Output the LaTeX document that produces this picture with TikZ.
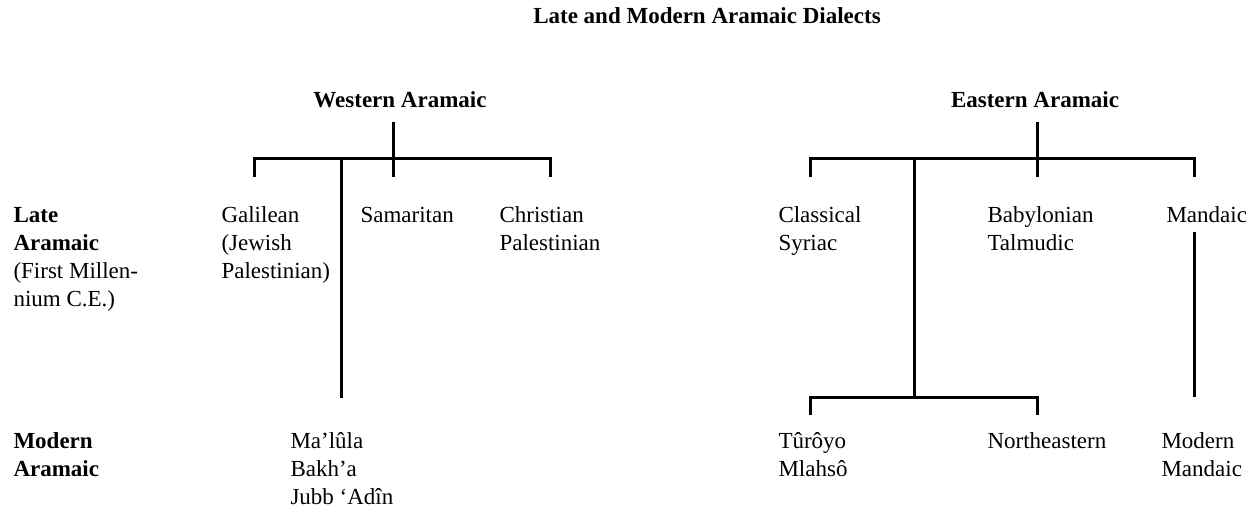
\documentclass[tikz,border=0pt]{standalone}
\usepackage{fontspec}
\setmainfont{Liberation Serif}
\begin{document}
\begin{tikzpicture}[x=1pt,y=-1pt,line width=3pt,
  lbl/.style={anchor=base west,align=left,inner sep=0pt,font=\fontsize{23}{28}\selectfont},
  head/.style={anchor=base,inner sep=0pt,font=\fontsize{23}{28}\selectfont\bfseries}]
\useasboundingbox (0,0) rectangle (1257,508);
\node[head] (title) at (707,24) {Late and Modern Aramaic Dialects};
\node[head] (west) at (400,108) {Western Aramaic};
\node[head] (east) at (1035,108) {Eastern Aramaic};
% row labels (placed at the baseline of their last line)
\node[lbl] (late) at (12,306) {\textbf{Late}\\\textbf{Aramaic}\\(First Millen-\\nium C.E.)};
\node[lbl] (modern) at (12,476) {\textbf{Modern}\\\textbf{Aramaic}};
% late dialects
\node[lbl] (galilean) at (220,278) {Galilean\\(Jewish\\Palestinian)};
\node[lbl] (samaritan) at (359,222) {Samaritan};
\node[lbl] (christian) at (498,250) {Christian\\Palestinian};
\node[lbl] (syriac) at (777,250) {Classical\\Syriac};
\node[lbl] (babylonian) at (986,250) {Babylonian\\Talmudic};
\node[lbl] (mandaic) at (1165,222) {Mandaic};
% modern dialects
\node[lbl] (maalula) at (289,504) {Ma’lûla\\Bakh’a\\Jubb ‘Adîn};
\node[lbl] (turoyo) at (777,476) {Tûrôyo\\Mlahsô};
\node[lbl] (northeast) at (986,448) {Northeastern};
\node[lbl] (modmandaic) at (1160,476) {Modern\\Mandaic};
% western tree
\coordinate (wtop) at (393,122);
\coordinate (wmid) at (393,158);
\coordinate (wleft) at (254,177);
\coordinate (wright) at (550,177);
\coordinate (wsam) at (393,177);
\coordinate (wbar) at (341,158);
\coordinate (wlow) at (341,398);
\draw (wtop) -- (wsam);
\draw (wleft) |- (wmid) -| (wright);
\draw (wbar) -- (wlow);
% eastern tree
\coordinate (etop) at (1037,122);
\coordinate (emid) at (1037,158);
\coordinate (eleft) at (810,177);
\coordinate (eright) at (1194,177);
\coordinate (ebab) at (1037,177);
\coordinate (ebar) at (914,158);
\coordinate (elow) at (914,397);
\coordinate (etur) at (810,415);
\coordinate (enor) at (1037,415);
\coordinate (mtop) at (1194,232);
\coordinate (mlow) at (1194,397);
\draw (etop) -- (ebab);
\draw (eleft) |- (emid) -| (eright);
\draw (ebar) -- (elow);
\draw (etur) |- (elow) -| (enor);
\draw (mtop) -- (mlow);
\end{tikzpicture}
\end{document}
